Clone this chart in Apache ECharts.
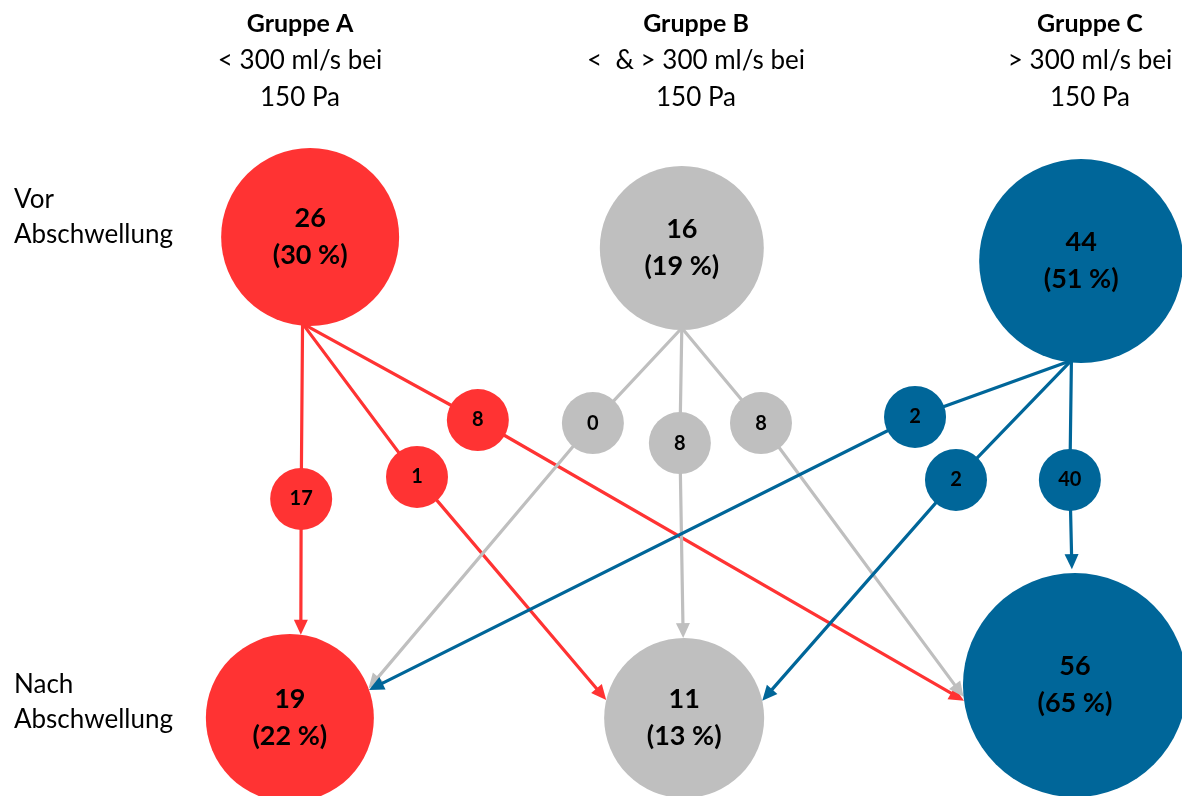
<!DOCTYPE html>
<html>
<head>
<meta charset="utf-8">
<title>Abschwellung – Gruppen</title>
<script src="https://cdn.jsdelivr.net/npm/echarts@6/dist/echarts.min.js"></script>
<style>
  html, body { margin: 0; padding: 0; background: #fff; }
  #chart { width: 1182px; height: 796px; }
</style>
</head>
<body>
<div id="chart"></div>
<script>
  // --- data ---
  const groups = ['Gruppe A', 'Gruppe B', 'Gruppe C'];
  const groupNotes = [
    ['< 300 ml/s bei', '150 Pa'],
    ['<  & > 300 ml/s bei', '150 Pa'],
    ['> 300 ml/s bei', '150 Pa']
  ];
  const stages = [['Vor', 'Abschwellung'], ['Nach', 'Abschwellung']];
  const beforeCounts = [26, 16, 44];
  const afterCounts = [19, 11, 56];
  // flowCounts[from][to]
  const flowCounts = [
    [17, 1, 8],
    [0, 8, 8],
    [2, 2, 40]
  ];

  // --- layout / style (grid units: column 0..2, row 0 = vor, 2 = nach) ---
  const colours = ['#FF3333', '#BFBFBF', '#006699'];
  const beforePos = [[0.026, -0.047], [0.979, 0], [2.003, 0.055]];
  const afterPos = [[-0.026, 2], [0.985, 2], [1.987, 1.86]];
  const beforeSize = [178, 164, 204];
  const afterSize = [168, 160, 224];
  const midSize = 62;
  const midPos = [
    [[0.003, 1.068], [0.300, 0.974], [0.456, 0.732]],
    [[0.751, 0.745], [0.974, 0.830], [1.182, 0.745]],
    [[1.577, 0.719], [1.682, 0.987], [1.974, 0.987]]
  ];
  const outAngle = [95, 90, 95.6];          // where lines leave the "vor" circle
  const inAngle = [                          // where arrows hit the "nach" circle
    [-82.5, -167, 172],
    [-20.5, -90.7, 174],
    [-19.5, -12.5, -91.5]
  ];
  const font = 'Lato, "Open Sans", sans-serif';

  const total = beforeCounts.reduce((a, b) => a + b, 0);
  const pct = v => Math.round(v / total * 100);

  const flows = [];
  for (let f = 0; f < 3; f++) {
    for (let t = 0; t < 3; t++) flows.push([f, t, flowCounts[f][t]]);
  }

  function renderFlow(params, api) {
    const from = api.value(0), to = api.value(1);
    const color = colours[from];
    const s = api.coord(beforePos[from]);
    const m = api.coord(midPos[from][to]);
    const c = api.coord(afterPos[to]);
    const a = outAngle[from] * Math.PI / 180;
    const rs = beforeSize[from] / 2 - 2;
    const start = [s[0] + rs * Math.cos(a), s[1] + rs * Math.sin(a)];
    const b = inAngle[from][to] * Math.PI / 180;
    const rt = afterSize[to] / 2 + (from === 2 && to === 2 ? 4 : 0);
    const tip = [c[0] + rt * Math.cos(b), c[1] + rt * Math.sin(b)];
    let dx = tip[0] - m[0], dy = tip[1] - m[1];
    const len = Math.sqrt(dx * dx + dy * dy);
    dx /= len; dy /= len;
    const headLen = 15, headW = 7;
    const base = [tip[0] - dx * headLen, tip[1] - dy * headLen];
    return {
      type: 'group',
      children: [
        {
          type: 'polyline',
          shape: { points: [start, m, [base[0] + dx * 2, base[1] + dy * 2]] },
          style: { stroke: color, lineWidth: 3.2, fill: null }
        },
        {
          type: 'polygon',
          shape: {
            points: [
              tip,
              [base[0] - dy * headW, base[1] + dx * headW],
              [base[0] + dy * headW, base[1] - dx * headW]
            ]
          },
          style: { fill: color }
        }
      ]
    };
  }

  const bigNodes = [];
  beforeCounts.forEach((v, i) => bigNodes.push({
    value: [beforePos[i][0], beforePos[i][1], v],
    symbolSize: beforeSize[i],
    itemStyle: { color: colours[i], opacity: 1 }
  }));
  afterCounts.forEach((v, i) => bigNodes.push({
    value: [afterPos[i][0], afterPos[i][1], v],
    symbolSize: afterSize[i],
    itemStyle: { color: colours[i], opacity: 1 }
  }));

  const midNodes = flows.map(fl => ({
    value: [midPos[fl[0]][fl[1]][0], midPos[fl[0]][fl[1]][1], fl[2]],
    itemStyle: { color: colours[fl[0]], opacity: 1 }
  }));

  const headerX = [300, 696, 1090];
  const graphics = [];
  groups.forEach((g, i) => {
    graphics.push({
      type: 'text', x: headerX[i], y: 24,
      style: { text: g, font: 'bold 25px ' + font, fill: '#000', textAlign: 'center', textVerticalAlign: 'middle' }
    });
    groupNotes[i].forEach((line, k) => graphics.push({
      type: 'text', x: headerX[i], y: 61 + k * 37,
      style: { text: line, font: '26px ' + font, fill: '#000', textAlign: 'center', textVerticalAlign: 'middle' }
    }));
  });
  const stageY = [200, 685];
  stages.forEach((st, i) => st.forEach((line, k) => graphics.push({
    type: 'text', x: 14, y: stageY[i] + k * 35,
    style: { text: line, font: '26px ' + font, fill: '#000', textAlign: 'left', textVerticalAlign: 'middle' }
  })));

  const chart = echarts.init(document.getElementById('chart'));
  chart.setOption({
    animation: false,
    grid: { left: 300, right: 102, top: 248, bottom: 78 },
    xAxis: { type: 'value', min: 0, max: 2, show: false },
    yAxis: { type: 'value', min: 0, max: 2, inverse: true, show: false },
    graphic: graphics,
    series: [
      {
        type: 'custom',
        renderItem: renderFlow,
        clip: false,
        z: 1,
        data: flows
      },
      {
        type: 'scatter',
        clip: false,
        z: 3,
        symbolSize: midSize,
        data: midNodes,
        emphasis: { disabled: true },
        label: {
          show: true,
          position: 'inside',
          color: '#000',
          textBorderWidth: 0,
          fontFamily: font,
          fontWeight: 'bold',
          fontSize: 20,
          formatter: p => p.value[2]
        }
      },
      {
        type: 'scatter',
        clip: false,
        z: 4,
        data: bigNodes,
        emphasis: { disabled: true },
        label: {
          show: true,
          position: 'inside',
          color: '#000',
          textBorderWidth: 0,
          fontFamily: font,
          fontWeight: 'bold',
          fontSize: 27,
          lineHeight: 37,
          formatter: p => p.value[2] + '\n(' + pct(p.value[2]) + ' %)'
        }
      }
    ]
  });
</script>
</body>
</html>
